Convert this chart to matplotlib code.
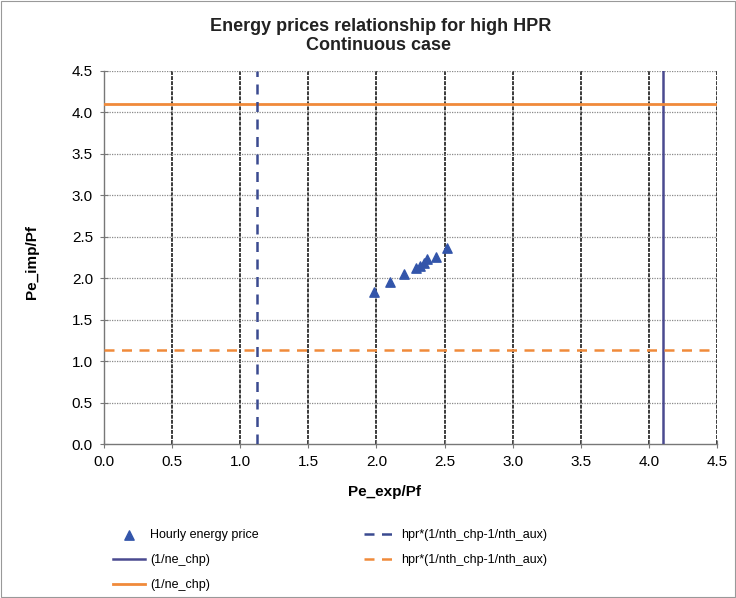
import matplotlib
matplotlib.use("Agg")
import matplotlib.pyplot as plt
from matplotlib.patches import Rectangle

plt.rcParams['font.family'] = ['Liberation Sans', 'DejaVu Sans']

# Hourly energy price ratios
pe_exp = [1.98, 2.10, 2.20, 2.29, 2.32, 2.35, 2.37, 2.44, 2.52]
pe_imp = [1.83, 1.95, 2.05, 2.12, 2.15, 2.18, 2.23, 2.26, 2.37]

# Threshold lines
inv_ne_chp = 4.10          # 1/ne_chp
hpr_term_x = 1.12          # hpr*(1/nth_chp-1/nth_aux), vertical
hpr_term_y = 1.14          # hpr*(1/nth_chp-1/nth_aux), horizontal

ticks = [0.0, 0.5, 1.0, 1.5, 2.0, 2.5, 3.0, 3.5, 4.0, 4.5]
title_lines = ["Energy prices relationship for high HPR", "Continuous case"]

W, H = 736, 598
fig = plt.figure(figsize=(W / 100, H / 100), dpi=100)
ax = fig.add_axes([104 / W, 1 - 444 / H, (717 - 104) / W, (444 - 71) / H])

ax.set_xlim(0, 4.5)
ax.set_ylim(0, 4.5)
ax.set_xticks(ticks)
ax.set_yticks(ticks)
ax.set_xticklabels([f"{t:.1f}" for t in ticks], fontsize=11)
ax.set_yticklabels([f"{t:.1f}" for t in ticks], fontsize=11)

# Grid: dark vertical lines, light dotted horizontal lines
for t in ticks[1:]:
    ax.axvline(t, color='#3a3a3a', lw=1.4, ls=(0, (2, 0.6)), zorder=1)
for t in ticks[1:]:
    ax.axhline(t, color='#8a8a8a', lw=0.9, ls=(0, (1, 1)), zorder=1)

for s in ['top', 'right']:
    ax.spines[s].set_visible(False)
for s in ['left', 'bottom']:
    ax.spines[s].set_color('#777777')
    ax.spines[s].set_linewidth(1.0)
ax.tick_params(direction='inout', length=6, color='#777777', pad=5)

ax.scatter(pe_exp, pe_imp, marker='^', s=45, color='#3355aa', zorder=5,
           label='Hourly energy price')
ax.axvline(inv_ne_chp, color='#4a4a90', lw=1.8, zorder=4, label='(1/ne_chp)')
ax.axhline(inv_ne_chp, color='#f08a3a', lw=2.0, zorder=4, label='(1/ne_chp)')
ax.axvline(hpr_term_x, color='#3a4a90', lw=1.8, ls=(0, (4, 3)), zorder=4,
           label='hpr*(1/nth_chp-1/nth_aux)')
ax.axhline(hpr_term_y, color='#f08a3a', lw=1.8, ls=(0, (4, 3)), zorder=4,
           label='hpr*(1/nth_chp-1/nth_aux)')

# Two-line title
fig.text(381 / W, 1 - 31 / H, title_lines[0], ha='center', va='baseline',
         fontsize=13, fontweight='bold', color='#222222')
fig.text(379 / W, 1 - 50 / H, title_lines[1], ha='center', va='baseline',
         fontsize=13, fontweight='bold', color='#222222')

ax.set_xlabel("Pe_exp/Pf", fontsize=11, fontweight='bold')
ax.xaxis.set_label_coords((385 - 104) / (717 - 104), -(492 - 444) / (444 - 71))
ax.xaxis.label.set_va('center')
ax.set_ylabel("Pe_imp/Pf", fontsize=11, fontweight='bold')
ax.yaxis.set_label_coords(-(104 - 32) / (717 - 104), (444 - 262) / (444 - 71))
ax.yaxis.label.set_va('center')

handles, labels = ax.get_legend_handles_labels()
fig.legend(handles, labels, ncol=2, frameon=False, fontsize=9,
           loc='upper left', bbox_to_anchor=(113 / W, 1 - 529 / H),
           borderpad=0, borderaxespad=0,
           columnspacing=8.4, handlelength=2.56, handletextpad=0.4,
           labelspacing=1.05)

fig.patches.append(Rectangle((0.002, 0.002), 0.996, 0.996, transform=fig.transFigure,
                             fill=False, edgecolor='#999999', lw=0.8))

fig.savefig("out.png", dpi=100)
